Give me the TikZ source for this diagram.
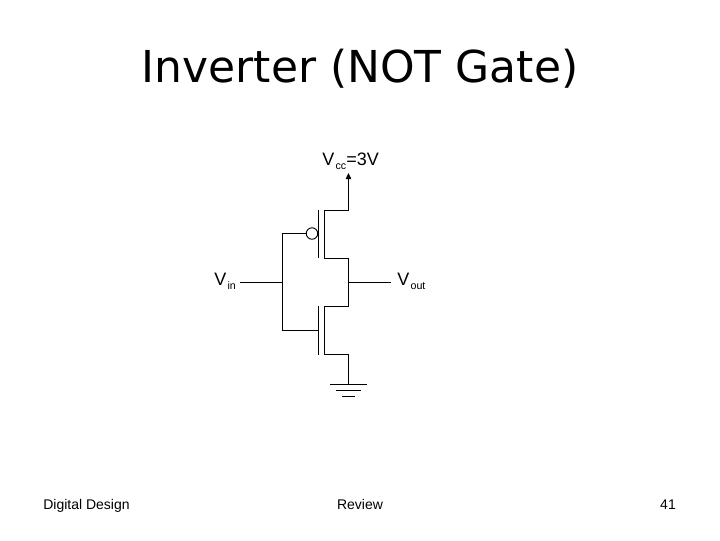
\documentclass[tikz,border=0pt]{standalone}
\usepackage{fontspec}
\setmainfont{Liberation Sans}
\newfontfamily\titlefont{DejaVu Sans}
\usetikzlibrary{arrows.meta}
\tikzset{
  wire/.style={line width=0.95pt,black},
  lbl/.style={inner sep=0pt,anchor=base,font=\fontsize{10.5pt}{12pt}\selectfont,text=black},
  vlabel/.style={inner sep=0pt,anchor=base west,font=\fontsize{13.5pt}{15pt}\selectfont,text=black},
  ttl/.style={inner sep=0pt,anchor=base,font=\titlefont\fontsize{33pt}{40pt}\selectfont,text=black},
  bubble/.style={circle,draw,line width=0.7pt,minimum size=8.6pt,inner sep=0pt}
}
\newcommand{\subs}[1]{\kern1pt\raisebox{-3pt}{\fontsize{8pt}{10pt}\selectfont #1}}
\begin{document}
\begin{tikzpicture}[x=0.75pt,y=-0.75pt]
\useasboundingbox (0,0) rectangle (720,540);
\node[ttl] (title) at (360,82) {Inverter (NOT Gate)};
\node[vlabel] (vcc) at (322,165) {V\subs{cc}=3V};
\node[vlabel] (vin) at (214,285) {V\subs{in}};
\node[vlabel] (vout) at (397,285) {V\subs{out}};
\node[lbl] (dd) at (86.5,509) {Digital Design};
\node[lbl] (rev) at (360,509) {Review};
\node[lbl] (num) at (668,509) {41};
% top transistor
\coordinate (vccend) at (348.5,173);
\coordinate (ptopd) at (348.5,210.5);
\coordinate (ptopc) at (324.5,210.5);
\coordinate (pbotc) at (324.5,258.5);
\coordinate (pbotd) at (348.5,258.5);
\coordinate (pgt) at (318.5,210);
\coordinate (pgb) at (318.5,258);
\node[bubble] (bub) at (312,233.5) {};
\coordinate (pgl) at (282.5,233.5);
% bottom transistor
\coordinate (ntopd) at (348.5,306.5);
\coordinate (ntopc) at (324.5,306.5);
\coordinate (nbotc) at (324.5,354.5);
\coordinate (nbotd) at (348.5,354.5);
\coordinate (ngt) at (318.5,306);
\coordinate (ngb) at (318.5,355);
\coordinate (ngl) at (282.5,330.5);
\coordinate (ngr) at (318.5,330.5);
% in/out
\coordinate (inl) at (240,282.5);
\coordinate (inj) at (282.5,282.5);
\coordinate (outj) at (348.5,282.5);
\coordinate (outr) at (391,282.5);
% ground
\coordinate (gnd) at (348.5,384.5);
\coordinate (g1l) at (330,384.5);
\coordinate (g1r) at (367,384.5);
\coordinate (g2l) at (336,390.5);
\coordinate (g2r) at (361,390.5);
\coordinate (g3l) at (342,396.5);
\coordinate (g3r) at (355,396.5);
\draw[wire,-{Triangle[length=4.5pt,width=4pt]}] (ptopd) -- (vccend);
\draw[wire] (ptopd) -- (ptopc) -- (pbotc) -- (pbotd) -- (ntopd) -- (ntopc) -- (nbotc) -- (nbotd) -- (gnd);
\draw[wire] (pgt) -- (pgb);
\draw[wire] (ngt) -- (ngb);
\draw[wire] (bub.west) -- (bub.west -| pgl) -- (ngl) -- (ngr);
\draw[wire] (inl) -- (inj);
\draw[wire] (outj) -- (outr);
\draw[wire] (g1l) -- (g1r);
\draw[wire] (g2l) -- (g2r);
\draw[wire] (g3l) -- (g3r);
\end{tikzpicture}
\end{document}
